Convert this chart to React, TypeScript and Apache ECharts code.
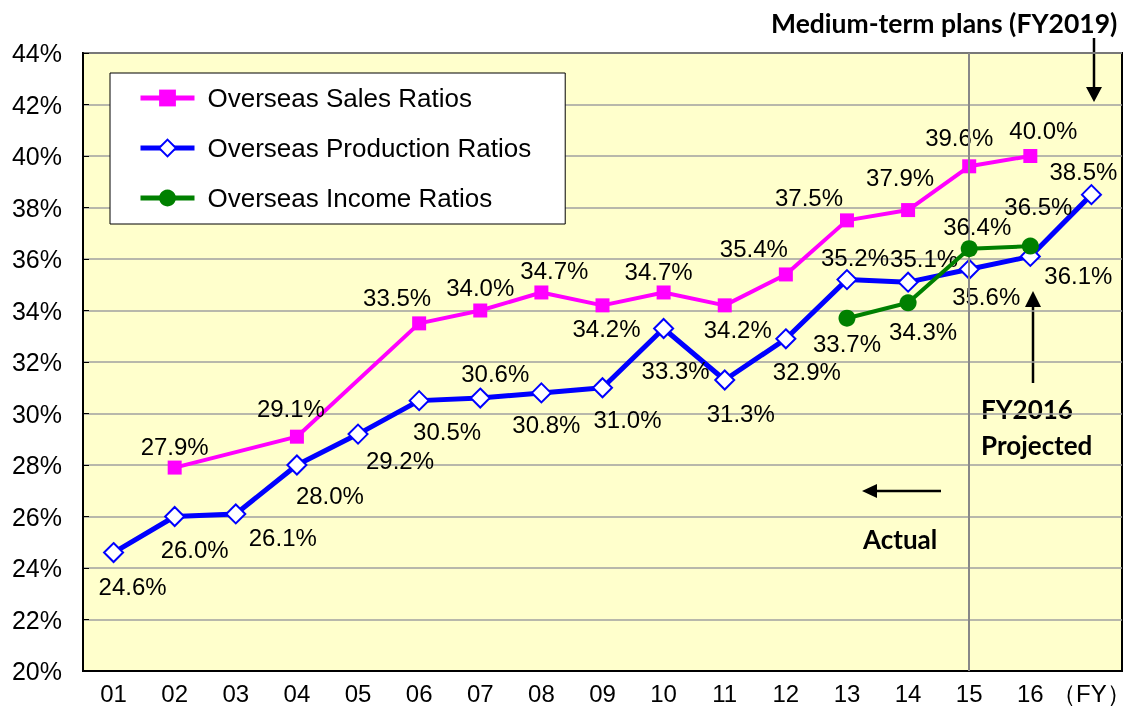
import React, { useEffect, useRef } from "react";
import * as echarts from "echarts";

const categories = ["01", "02", "03", "04", "05", "06", "07", "08", "09", "10", "11", "12", "13", "14", "15", "16", "（FY）"];
const yTicks = { min: 20, max: 44, step: 2 };

const salesName = "Overseas Sales Ratios";
const productionName = "Overseas Production Ratios";
const incomeName = "Overseas Income Ratios";

const salesValues = [null, 27.9, null, 29.1, null, 33.5, 34.0, 34.7, 34.2, 34.7, 34.2, 35.4, 37.5, 37.9, 39.6, 40.0, null];
const productionValues = [24.6, 26.0, 26.1, 28.0, 29.2, 30.5, 30.6, 30.8, 31.0, 33.3, 31.3, 32.9, 35.2, 35.1, 35.6, 36.1, 38.5];
const incomeValues = [null, null, null, null, null, null, null, null, null, null, null, null, 33.7, 34.3, 36.4, 36.5, null];

const dividerCategory = "15";

// label offsets (style only)
const salesLabelOffsets = [null, [0, -21], null, [-6, -28], null, [-22, -26], [0, -23], [13, -22], [4, 23], [-5, -21], [13, 24], [-32, -26], [-38, -23], [-8, -33], [-10, -29], [13, -26], null];
const productionLabelOffsets = [[19, 34], [20, 33], [47, 24], [33, 30], [42, 26], [28, 31], [15, -25], [5, 32], [25, 32], [12, 42], [16, 33], [21, 33], [8, -22], [16, -24], [17, 27], [48, 19], [-8, -23]];
const incomeLabelOffsets = [null, null, null, null, null, null, null, null, null, null, null, null, [0, 25], [15, 29], [8, -22], [8, -40], null];

const ARIAL = "'Liberation Sans', Arial, sans-serif";
const BOLD = "Lato, 'Open Sans', sans-serif";

function build(values: (number | null)[], offsets: (number[] | null)[]) {
  return values.map((v, i) =>
    v == null ? null : { value: v, label: { offset: offsets[i] || [0, 0] } }
  );
}

export default function App() {
  const ref = useRef<HTMLDivElement>(null);
  useEffect(() => {
    const chart = echarts.init(ref.current!, null, { renderer: "svg" });
    const labelStyle = {
      show: true,
      position: "inside",
      align: "center",
      verticalAlign: "middle",
      fontSize: 24,
      fontFamily: ARIAL,
      color: "#000",
      formatter: (p: any) => Number(p.value).toFixed(1) + "%",
    };
    const option: any = {
      animation: false,
      grid: {
        left: 83,
        right: 14,
        top: 53,
        bottom: 45,
        show: true,
        backgroundColor: "#FFFFCC",
        borderColor: "#000",
        borderWidth: 2,
      },
      legend: {
        orient: "vertical",
        left: 110,
        top: 73,
        backgroundColor: "#fff",
        borderColor: "#000",
        borderWidth: 1,
        padding: [12, 34, 13, 28],
        itemGap: 24,
        itemWidth: 54,
        itemHeight: 21,
        lineStyle: { width: 5 },
        textStyle: { fontSize: 26, fontFamily: ARIAL, color: "#000", lineHeight: 26, padding: [0, 0, 0, 8] },
        data: [salesName, productionName, incomeName],
      },
      xAxis: {
        type: "category",
        data: categories,
        boundaryGap: true,
        axisLine: { lineStyle: { color: "#000", width: 2 } },
        axisTick: { inside: true, length: 6, interval: 0, lineStyle: { color: "#000", width: 1 } },
        axisLabel: { interval: 0, fontSize: 24, fontFamily: ARIAL, color: "#000", margin: 10 },
        splitLine: { show: false },
      },
      yAxis: {
        type: "value",
        min: yTicks.min,
        max: yTicks.max,
        interval: yTicks.step,
        axisLine: { show: true, lineStyle: { color: "#000", width: 2 } },
        axisTick: { show: true, inside: true, length: 6, lineStyle: { color: "#000", width: 1 } },
        axisLabel: { fontSize: 25, fontFamily: ARIAL, color: "#000", margin: 21, formatter: "{value}%" },
        splitLine: { show: true, lineStyle: { color: "#a0a0a0", width: 1.5 } },
      },
      series: [
        {
          name: salesName,
          type: "line",
          data: build(salesValues, salesLabelOffsets),
          connectNulls: true,
          symbol: "rect",
          symbolSize: 14,
          itemStyle: { color: "#FF00FF" },
          lineStyle: { color: "#FF00FF", width: 4 },
          label: labelStyle,
          z: 3,
          markLine: {
            silent: true,
            symbol: ["none", "none"],
            label: { show: false },
            lineStyle: { color: "#888", width: 2, type: "solid" },
            data: [{ xAxis: dividerCategory }],
          },
        },
        {
          name: productionName,
          type: "line",
          data: build(productionValues, productionLabelOffsets),
          connectNulls: true,
          symbol: "diamond",
          symbolSize: 19,
          itemStyle: { color: "#fff", borderColor: "#0000FF", borderWidth: 2 },
          lineStyle: { color: "#0000FF", width: 5 },
          label: labelStyle,
          z: 4,
        },
        {
          name: incomeName,
          type: "line",
          data: build(incomeValues, incomeLabelOffsets),
          connectNulls: false,
          symbol: "circle",
          symbolSize: 17,
          itemStyle: { color: "#008000" },
          lineStyle: { color: "#008000", width: 4 },
          label: labelStyle,
          z: 5,
        },
      ],
      graphic: [
        {
          type: "text",
          left: 771,
          top: 9,
          style: { text: "Medium-term plans (FY2019)", font: `bold 26.5px ${BOLD}`, fill: "#000" },
        },
        { type: "line", shape: { x1: 1094, y1: 38, x2: 1094, y2: 90 }, style: { stroke: "#000", lineWidth: 2.5 } },
        { type: "polygon", shape: { points: [[1086, 87], [1102, 87], [1094, 102]] }, style: { fill: "#000" } },
        { type: "line", shape: { x1: 1033, y1: 305, x2: 1033, y2: 383 }, style: { stroke: "#000", lineWidth: 2.5 } },
        { type: "polygon", shape: { points: [[1025, 307], [1041, 307], [1033, 291]] }, style: { fill: "#000" } },
        {
          type: "text",
          left: 981,
          top: 391,
          style: { text: "FY2016\nProjected", font: `bold 26px ${BOLD}`, fill: "#000", lineHeight: 36 },
        },
        { type: "line", shape: { x1: 875, y1: 491, x2: 941, y2: 491 }, style: { stroke: "#000", lineWidth: 2.5 } },
        { type: "polygon", shape: { points: [[877, 484], [877, 498], [862, 491]] }, style: { fill: "#000" } },
        {
          type: "text",
          left: 863,
          top: 526,
          style: { text: "Actual", font: `bold 26px ${BOLD}`, fill: "#000" },
        },
      ],
    };
    chart.setOption(option);
    return () => chart.dispose();
  }, []);
  return <div ref={ref} style={{ position: "fixed", left: 0, top: 0, width: 1136, height: 716 }} />;
}
